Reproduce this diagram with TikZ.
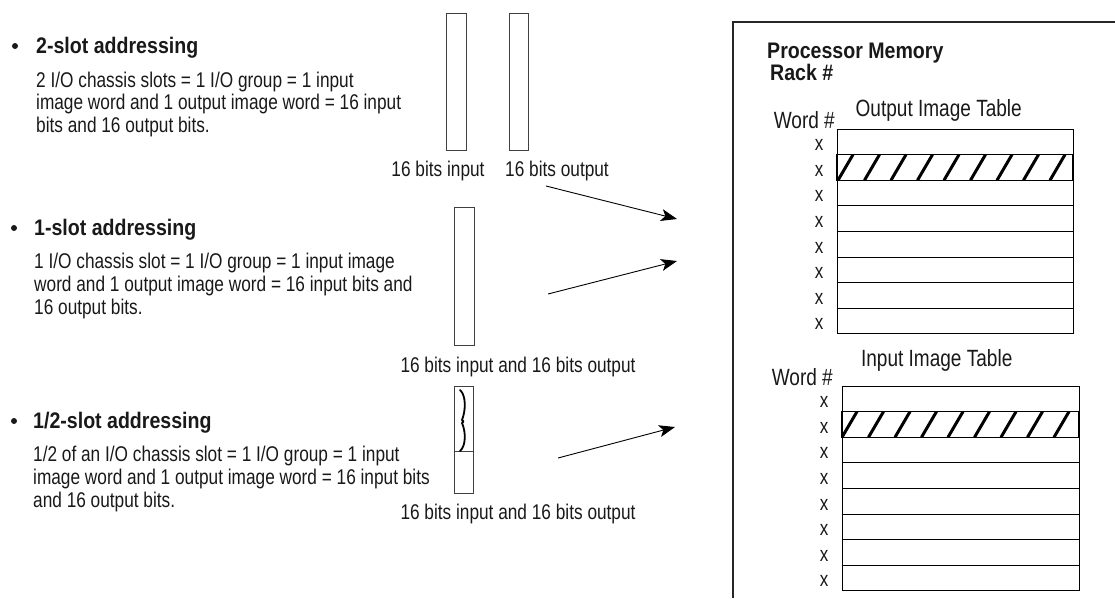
\documentclass[tikz,border=0pt]{standalone}
\usepackage{fontspec}
\setmainfont{Liberation Sans}[FakeStretch=0.81]
\newfontfamily\headfont{Liberation Sans Bold}[FakeStretch=0.87]
\usetikzlibrary{arrows.meta}

\tikzset{
  slotbox/.style={draw=black!75, line width=0.9pt},
  rowline/.style={draw=black, line width=0.9pt},
  hatchbar/.style={line width=3pt},
  arrowline/.style={line width=0.9pt, -{Stealth[length=16pt, width=12pt, inset=4pt]}},
  headtext/.style={anchor=base west, inner sep=0pt, text=black!90, font=\headfont\fontsize{22.5}{24}\selectfont},
  bodytext/.style={anchor=base west, inner sep=0pt, text=black!90, font=\fontsize{21.3}{22.8}\selectfont},
  bitstext/.style={anchor=base, inner sep=0pt, text=black!90, font=\fontsize{21.3}{22.8}\selectfont},
  tabletext/.style={inner sep=0pt, text=black!90, font=\fontsize{23.5}{25}\selectfont},
  wordx/.style={anchor=base, inner sep=0pt, text=black!90, font=\fontsize{21}{22}\selectfont},
  dot/.style={circle, fill=black!90, inner sep=0pt, minimum size=6pt}
}

\begin{document}
\begin{tikzpicture}[x=1pt, y=-1pt]
  \useasboundingbox (0,0) rectangle (1115,598);

  % 2-slot
  \node[dot] (b2) at (15,46) {};
  \node[headtext] (h2) at (36,53.3) {2-slot addressing};
  \node[bodytext] (t2a) at (36,87) {2 I/O chassis slots = 1 I/O group = 1 input};
  \node[bodytext] (t2b) at (36,109.8) {image word and 1 output image word = 16 input};
  \node[bodytext] (t2c) at (36,132.6) {bits and 16 output bits.};

  % 1-slot
  \node[dot] (b1) at (14,228) {};
  \node[headtext] (h1) at (34,235) {1-slot addressing};
  \node[bodytext] (t1a) at (34,268) {1 I/O chassis slot = 1 I/O group = 1 input image};
  \node[bodytext] (t1b) at (34,291) {word and 1 output image word = 16 input bits and};
  \node[bodytext] (t1c) at (34,314) {16 output bits.};

  % 1/2-slot
  \node[dot] (bh) at (14,421) {};
  \node[headtext] (hh) at (33,428.3) {1/2-slot addressing};
  \node[bodytext] (tha) at (33,461.5) {1/2 of an I/O chassis slot = 1 I/O group = 1 input};
  \node[bodytext] (thb) at (33,484.5) {image word and 1 output image word = 16 input bits};
  \node[bodytext] (thc) at (33,507.5) {and 16 output bits.};

  % slots
  \draw[slotbox] (446,13) rectangle (466,150);
  \draw[slotbox] (509,13) rectangle (528,150);
  \node[bitstext] (in2) at (438,176) {16 bits input};
  \node[bitstext] (out2) at (557,176) {16 bits output};

  \draw[slotbox] (454,207) rectangle (474,345);
  \node[bitstext] (io1) at (518,372) {16 bits input and 16 bits output};

  \draw[slotbox] (454,386) rectangle (473,493);
  \draw[slotbox] (454,451) -- (473,451);
  \draw[line width=1.8pt, line cap=round, line join=round] (460,390)
    .. controls (466,395) and (466,410) .. (462,420) -- (463.5,421.5) -- (462,423)
    .. controls (466,432) and (466,446) .. (460,451);
  \node[bitstext] (ioh) at (518,519) {16 bits input and 16 bits output};

  % arrows
  \coordinate (a1s) at (546,186);
  \coordinate (a1e) at (677,219);
  \coordinate (a2s) at (548,294);
  \coordinate (a2e) at (677,261);
  \coordinate (a3s) at (558,458);
  \coordinate (a3e) at (675,427);
  \draw[arrowline] (a1s) -- (a1e);
  \draw[arrowline] (a2s) -- (a2e);
  \draw[arrowline] (a3s) -- (a3e);

  % processor memory
  \draw[line width=1.1pt, draw=black!85] (733,598) -- (733,22) -- (1115,22);
  \node[headtext] (pm) at (767,58.3) {Processor Memory};
  \node[headtext] (rack) at (770,80) {Rack \#};

  % output image table
  \node[tabletext, anchor=base] (oit) at (938.7,116) {Output Image Table};
  \node[tabletext, anchor=base east] (ow) at (835,128.5) {Word \#};
  \begin{scope}
    \clip (837,154.6) rectangle (1073,180.2);
    \foreach \i in {0,...,10}
      \draw[hatchbar] ({811.5+26.5*\i},180.2) -- ++(15,-25.6);
  \end{scope}
  \foreach \r in {0,...,8}
    \draw[rowline] (837,{129+25.6*\r}) -- (1073,{129+25.6*\r});
  \draw[rowline] (837,129) -- (837,333.8);
  \draw[rowline] (1073,129) -- (1073,333.8);
  \draw[line width=1.4pt] (837,154.6) rectangle (1073,180.2);
  \foreach \r in {1,...,8}
    \node[wordx] (ox\r) at (819,{129+25.6*\r-4}) {x};

  % input image table
  \node[tabletext, anchor=base] (iit) at (936.7,366.7) {Input Image Table};
  \node[tabletext, anchor=base east] (iw) at (833,385.5) {Word \#};
  \begin{scope}
    \clip (842,411.6) rectangle (1079,437.2);
    \foreach \i in {0,...,10}
      \draw[hatchbar] ({815.5+26.5*\i},437.2) -- ++(15,-25.6);
  \end{scope}
  \foreach \r in {0,...,8}
    \draw[rowline] (842,{386+25.6*\r}) -- (1079,{386+25.6*\r});
  \draw[rowline] (842,386) -- (842,590.8);
  \draw[rowline] (1079,386) -- (1079,590.8);
  \draw[line width=1.4pt] (842,411.6) rectangle (1079,437.2);
  \foreach \r in {1,...,8}
    \node[wordx] (ix\r) at (824,{386+25.6*\r-4}) {x};
\end{tikzpicture}
\end{document}
